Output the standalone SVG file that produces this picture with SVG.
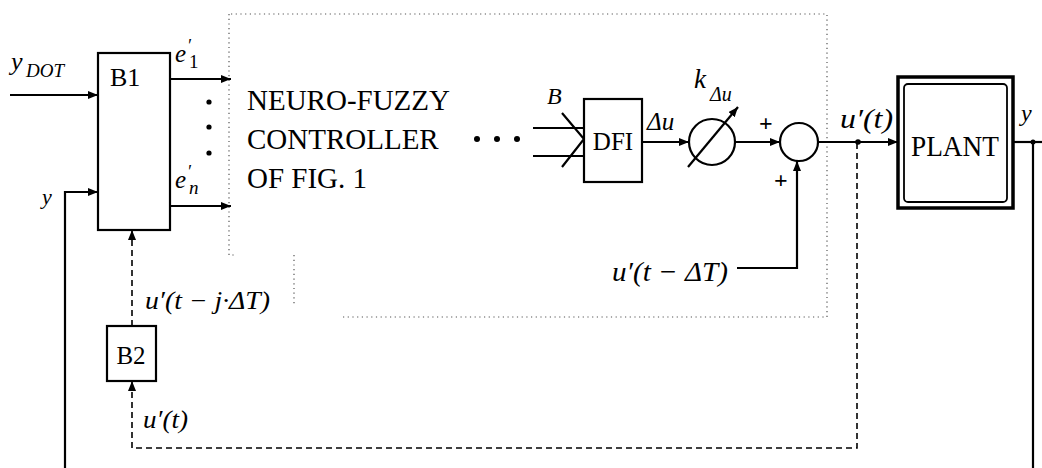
<svg xmlns="http://www.w3.org/2000/svg" width="1042" height="468" viewBox="0 0 1042 468">
<defs>
<marker id="ah" markerUnits="userSpaceOnUse" markerWidth="12" markerHeight="10" refX="10" refY="4" orient="auto">
<path d="M0,0 L10,4 L0,8 Z" fill="#000"/>
</marker>
<style>
.ln{stroke:#000;stroke-width:2.2;fill:none}
.ds{stroke:#000;stroke-width:1.6;fill:none;stroke-dasharray:6,4}
.dt{stroke:#555;stroke-width:1.2;fill:none;stroke-dasharray:1.2,3.5}
.bx{stroke:#000;stroke-width:2.2;fill:#fff}
.t{font-family:"Liberation Serif","Times New Roman",serif;fill:#000}
.i{font-family:"Liberation Serif","Times New Roman",serif;font-style:italic;fill:#000}
</style>
</defs>
<rect width="1042" height="468" fill="#fff"/>

<g id="frame">
<path class="dt" d="M231,14 L827,14 L827,317 L343,317"/>
<path class="dt" d="M229,14 L229,255 L236,255"/>
<path class="dt" d="M294,255 L294,305"/>
</g>

<g id="connectors">
<path class="ln" d="M10,95 L98,95" marker-end="url(#ah)"/>
<path class="ln" d="M65,468 L65,192 L98,192" marker-end="url(#ah)"/>
<path class="ln" d="M170,79 L231,79" marker-end="url(#ah)"/>
<path class="ln" d="M170,206 L231,206" marker-end="url(#ah)"/>
<path class="ds" d="M133,230 L133,142 L170,142" marker-end="url(#ah)"/>
<path class="ds" d="M132,326 L132,230" marker-end="url(#ah)"/>
<path class="ds" d="M857,143 L857,448 L132,448 L132,381" marker-end="url(#ah)"/>
<path class="ln" d="M533,128 L584,128"/>
<path class="ln" d="M533,156 L584,156"/>
<path class="ln" d="M562,113 L584,139 L562,167"/>
<path class="ln" d="M642,142 L689,142" marker-end="url(#ah)"/>
<path class="ln" d="M735,142 L780,142" marker-end="url(#ah)"/>
<path class="ln" d="M737,268 L797,268 L797,161" marker-end="url(#ah)"/>
<path class="ln" d="M818,142 L898,142" marker-end="url(#ah)"/>
<circle cx="858" cy="142" r="2.8" fill="#000"/>
<path class="ln" d="M1013,142 L1042,142"/>
<path class="ln" d="M1033,142 L1033,468"/>
<circle cx="1033" cy="142" r="2.5" fill="#000"/>
</g>

<g id="labels">
<text class="i" x="11" y="70" font-size="26">y</text>
<text class="i" x="26" y="77" font-size="19">DOT</text>
<text class="i" x="42" y="204" font-size="22">y</text>
<text class="i" x="175" y="62" font-size="25">e</text>
<text class="i" x="187" y="52" font-size="18">′</text>
<text class="t" x="189" y="68" font-size="19">1</text>
<text class="i" x="175" y="188" font-size="25">e</text>
<text class="i" x="187" y="178" font-size="18">′</text>
<text class="i" x="189" y="194" font-size="19">n</text>
<circle cx="209" cy="102" r="2.6" fill="#000"/>
<circle cx="209" cy="127" r="2.6" fill="#000"/>
<circle cx="209" cy="153" r="2.6" fill="#000"/>
<text class="i" x="145" y="309" font-size="25" textLength="125" lengthAdjust="spacingAndGlyphs">u′(t − j·ΔT)</text>
<text class="i" x="143" y="428" font-size="25" textLength="45" lengthAdjust="spacingAndGlyphs">u′(t)</text>
<text class="i" x="547" y="104" font-size="24">B</text>
<circle cx="477" cy="139" r="3" fill="#000"/>
<circle cx="497" cy="139" r="3" fill="#000"/>
<circle cx="517" cy="139" r="3" fill="#000"/>
<text class="i" x="647" y="130" font-size="25">Δu</text>
<text class="i" x="694" y="88" font-size="27">k</text>
<text class="i" x="710" y="101" font-size="20">Δu</text>
<text class="t" x="759" y="131" font-size="24" font-weight="bold">+</text>
<text class="t" x="774" y="188" font-size="24" font-weight="bold">+</text>
<text class="i" x="840" y="128" font-size="28" textLength="53" lengthAdjust="spacingAndGlyphs">u′(t)</text>
<text class="i" x="612" y="281" font-size="28" textLength="116" lengthAdjust="spacingAndGlyphs">u′(t − ΔT)</text>
<text class="i" x="1021" y="121" font-size="24">y</text>
</g>

<g id="b1">
<rect class="bx" x="98" y="53" width="72" height="177" fill="none"/>
<text class="t" x="110" y="86" font-size="26">B1</text>
</g>

<g id="nf">
<text class="t" x="247" y="110" font-size="29">NEURO-FUZZY</text>
<text class="t" x="247" y="149" font-size="29">CONTROLLER</text>
<text class="t" x="247" y="188" font-size="29">OF FIG. 1</text>
</g>

<g id="b2">
<rect class="bx" x="107" y="326" width="49" height="55"/>
<text class="t" x="131" y="364" font-size="25" text-anchor="middle">B2</text>
</g>

<g id="dfi">
<rect class="bx" x="584" y="99" width="58" height="83"/>
<text class="t" x="613" y="150" font-size="25" text-anchor="middle">DFI</text>
</g>

<g id="gain">
<circle class="ln" cx="712" cy="142" r="23"/>
<path class="ln" d="M688,167 L738,107" marker-end="url(#ah)"/>
</g>

<g id="sum">
<circle class="ln" cx="799" cy="142" r="19"/>
</g>

<g id="plant">
<rect x="898" y="77" width="115" height="131" fill="#fff" stroke="#000" stroke-width="3.5"/>
<rect x="904" y="84" width="103" height="118" rx="4" fill="none" stroke="#000" stroke-width="1.8"/>
<text class="t" x="955" y="156" font-size="29" text-anchor="middle" textLength="88" lengthAdjust="spacingAndGlyphs">PLANT</text>
</g>
</svg>
